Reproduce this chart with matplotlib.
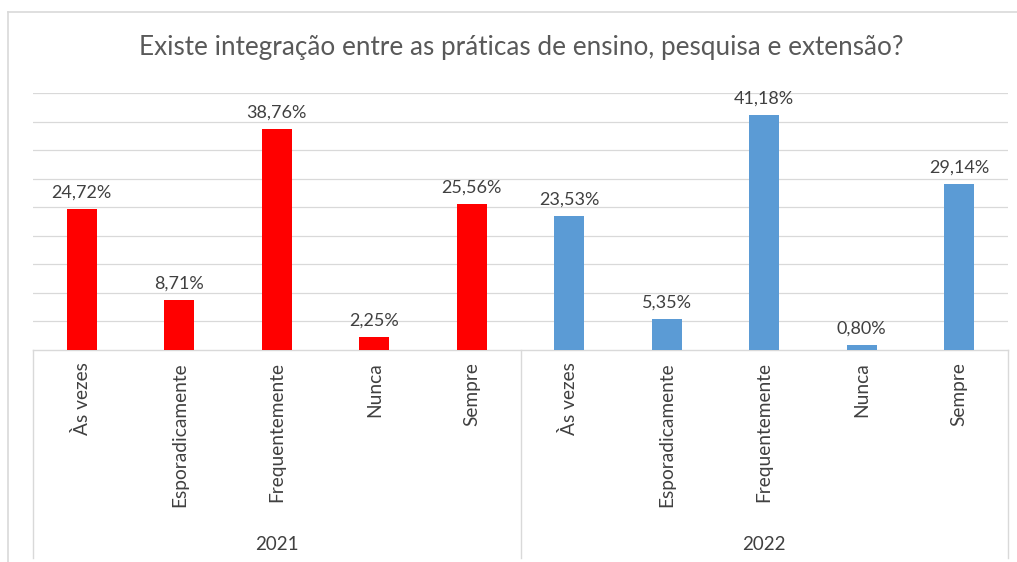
import matplotlib.pyplot as plt
import matplotlib.transforms as mtransforms
from matplotlib.lines import Line2D

# dados
categorias = ['Às vezes', 'Esporadicamente', 'Frequentemente', 'Nunca', 'Sempre']
anos = ['2021', '2022']
valores_2021 = [24.72, 8.71, 38.76, 2.25, 25.56]
valores_2022 = [23.53, 5.35, 41.18, 0.80, 29.14]
cores = {'2021': '#FF0000', '2022': '#5B9BD5'}

plt.rcParams['font.family'] = ['Lato', 'DejaVu Sans']

fig = plt.figure(figsize=(10.17, 5.62), dpi=100)
W, H = 1017, 562
# area do grafico (em pixels do desenho original)
x0, x1, y_base, y_top = 33, 1008, 350, 93
ax = fig.add_axes([x0 / W, 1 - y_base / H, (x1 - x0) / W, (y_base - y_top) / H])

texto_cor = '#404040'
grade_cor = '#d9d9d9'

series = [valores_2021, valores_2022]
pos = 0
xs, labels = [], []
for ano, vals in zip(anos, series):
    for cat, v in zip(categorias, vals):
        ax.bar(pos, v, width=0.31, color=cores[ano], zorder=3)
        ax.annotate(f'{v:.2f}%'.replace('.', ','), (pos, v), xytext=(0, 6),
                    textcoords='offset points', ha='center', va='bottom',
                    fontsize=13, color=texto_cor)
        xs.append(pos)
        labels.append(cat)
        pos += 1

ax.set_xlim(-0.5, len(xs) - 0.5)
ax.set_ylim(0, 45)
ax.set_yticks(range(5, 50, 5))
ax.yaxis.grid(True, color=grade_cor, linewidth=0.9, zorder=0)
ax.tick_params(axis='y', length=0, labelleft=False)
ax.set_xticks(xs)
ax.set_xticklabels(labels, rotation=90, fontsize=13.8, color=texto_cor)
ax.tick_params(axis='x', length=0, pad=9)
for s in ['top', 'right', 'left']:
    ax.spines[s].set_visible(False)
ax.spines['bottom'].set_color(grade_cor)
ax.spines['bottom'].set_linewidth(1)

# separadores dos grupos e rótulos dos anos
trans = mtransforms.blended_transform_factory(ax.transData, ax.transAxes)
fundo = -(558 - y_base) / (y_base - y_top)
n = len(categorias)
for xsep in [-0.5, n - 0.5, 2 * n - 0.5]:
    ax.plot([xsep, xsep], [0, fundo], transform=trans, color=grade_cor,
            linewidth=1, clip_on=False)
for i, ano in enumerate(anos):
    ax.text(i * n + (n - 1) / 2, -(545 - y_base) / (y_base - y_top), ano,
            transform=trans, ha='center', va='center', fontsize=13.5,
            color=texto_cor)

# título
fig.text(521 / W, 1 - 47 / H,
         'Existe integração entre as práticas de ensino, pesquisa e extensão?',
         ha='center', va='center', fontsize=18.8, color='#595959')

# borda externa do gráfico
fig.add_artist(Line2D([8 / W, 1], [1 - 12 / H, 1 - 12 / H], color=grade_cor,
                      linewidth=1.2, transform=fig.transFigure))
fig.add_artist(Line2D([8 / W, 8 / W], [0, 1 - 12 / H], color=grade_cor,
                      linewidth=1.2, transform=fig.transFigure))

fig.savefig('out.png', dpi=100)
